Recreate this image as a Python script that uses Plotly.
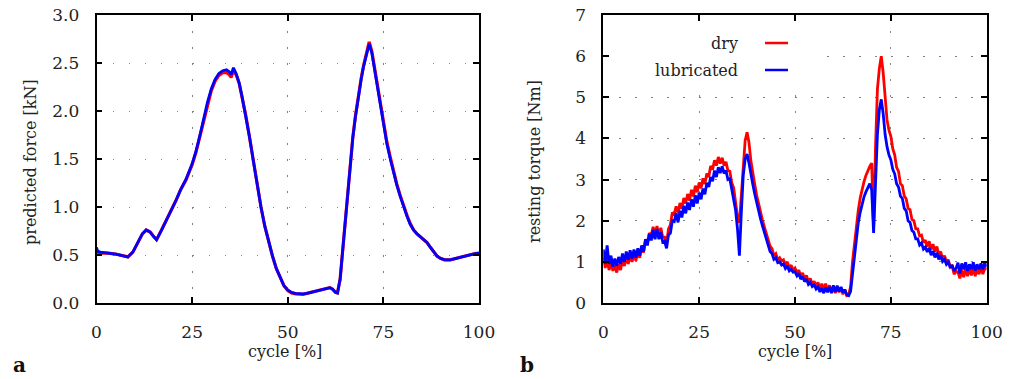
import plotly.graph_objects as go

# ---------------- panel a: predicted force ----------------
cycle_a = [0, 0.3, 1, 3, 5, 7, 8.2, 9.5, 11, 12, 13, 14, 15, 15.7, 17, 19, 20.8, 22, 23.4, 25,
           26, 27, 28, 29, 30, 31, 32, 33, 34, 34.7, 35.2, 35.8, 36.5, 37.3, 38, 39, 40, 41, 42, 43,
           44, 45, 46, 47, 48, 49, 50, 51, 52, 53, 54, 55, 56, 57, 58, 59, 60, 61, 61.7, 62.5,
           63, 63.7, 64.3, 65, 65.7, 66.3, 67, 67.7, 68.5, 69.2, 69.8, 70.5, 71.3, 72, 72.5, 73.3, 74.2, 75, 75.9, 76.8,
           77.6, 78.5, 79.4, 80.3, 81.2, 82, 82.9, 83.8, 84.7, 85.5, 86.4, 87.3, 88.2, 89, 89.9, 91, 92.5, 94, 95.1, 97,
           99, 100]
force_lub = [0.58, 0.54, 0.53, 0.52, 0.51, 0.49, 0.48, 0.53, 0.65, 0.72, 0.76, 0.74, 0.69, 0.66, 0.76, 0.92, 1.07, 1.18, 1.29, 1.45,
             1.58, 1.74, 1.92, 2.09, 2.23, 2.33, 2.39, 2.42, 2.43, 2.41, 2.38, 2.45, 2.39, 2.29, 2.16, 1.96, 1.73, 1.48, 1.23, 1.00,
             0.80, 0.63, 0.49, 0.36, 0.26, 0.18, 0.135, 0.11, 0.10, 0.095, 0.095, 0.10, 0.11, 0.12, 0.135, 0.14, 0.155, 0.16, 0.145, 0.11,
             0.105, 0.25, 0.52, 0.82, 1.15, 1.46, 1.72, 1.94, 2.17, 2.33, 2.46, 2.58, 2.70, 2.60, 2.48, 2.26, 2.03, 1.84, 1.66, 1.50,
             1.36, 1.23, 1.11, 1.00, 0.90, 0.82, 0.76, 0.72, 0.69, 0.67, 0.63, 0.58, 0.53, 0.49, 0.465, 0.45, 0.45, 0.465, 0.48, 0.50,
             0.515, 0.52]
force_dry = [0.55, 0.53, 0.52, 0.52, 0.51, 0.49, 0.48, 0.53, 0.65, 0.72, 0.76, 0.74, 0.69, 0.66, 0.76, 0.92, 1.07, 1.18, 1.28, 1.44,
             1.57, 1.73, 1.90, 2.07, 2.21, 2.31, 2.37, 2.40, 2.40, 2.38, 2.35, 2.42, 2.38, 2.29, 2.16, 1.96, 1.73, 1.48, 1.23, 1.00,
             0.80, 0.63, 0.49, 0.36, 0.26, 0.18, 0.13, 0.105, 0.095, 0.09, 0.09, 0.10, 0.11, 0.12, 0.13, 0.14, 0.15, 0.16, 0.145, 0.11,
             0.105, 0.25, 0.52, 0.82, 1.15, 1.46, 1.72, 1.95, 2.18, 2.34, 2.47, 2.59, 2.72, 2.62, 2.50, 2.28, 2.05, 1.86, 1.68, 1.52,
             1.37, 1.24, 1.12, 1.01, 0.91, 0.83, 0.76, 0.72, 0.69, 0.67, 0.63, 0.58, 0.53, 0.49, 0.465, 0.45, 0.45, 0.465, 0.48, 0.50,
             0.515, 0.52]

# ---------------- panel b: resting torque (0.5 % steps) ----------------
cycle_b = [i * 0.5 for i in range(201)]
torque_lub = [
    1.30, 0.95, 1.40, 0.95, 1.15, 0.88, 1.08, 0.90, 1.12, 0.95,
    1.20, 1.00, 1.25, 1.05, 1.28, 1.08, 1.30, 1.10, 1.33, 1.15,
    1.40, 1.25, 1.55, 1.40, 1.68, 1.52, 1.78, 1.55, 1.80, 1.55,
    1.72, 1.48, 1.50, 1.33, 1.65, 1.70, 2.00, 1.98, 2.18, 1.96,
    2.24, 2.08, 2.36, 2.18, 2.44, 2.26, 2.52, 2.34, 2.62, 2.42,
    2.68, 2.52, 2.78, 2.64, 2.92, 2.82, 3.06, 2.96, 3.22, 3.06,
    3.30, 3.16, 3.32, 3.15, 3.22, 3.00, 3.02, 2.75, 2.58, 2.26,
    1.80, 1.15, 2.20, 3.10, 3.50, 3.62, 3.40, 3.10, 2.88, 2.65,
    2.42, 2.22, 2.05, 1.88, 1.72, 1.55, 1.40, 1.25, 1.20, 1.06,
    1.10, 0.98, 1.00, 0.92, 0.95, 0.84, 0.90, 0.78, 0.82, 0.75,
    0.76, 0.66, 0.72, 0.58, 0.64, 0.52, 0.58, 0.45, 0.50, 0.40,
    0.44, 0.34, 0.39, 0.27, 0.36, 0.24, 0.37, 0.26, 0.39, 0.24,
    0.43, 0.27, 0.42, 0.28, 0.39, 0.26, 0.32, 0.20, 0.18, 0.28,
    0.70, 1.15, 1.60, 1.95, 2.20, 2.42, 2.58, 2.70, 2.80, 2.90,
    2.75, 1.70, 2.90, 4.10, 4.70, 4.95, 4.60, 4.10, 3.80, 3.60,
    3.48, 3.25, 3.14, 2.90, 2.82, 2.60, 2.54, 2.30, 2.24, 2.00,
    1.96, 1.76, 1.72, 1.56, 1.56, 1.41, 1.46, 1.31, 1.36, 1.24,
    1.34, 1.16, 1.26, 1.11, 1.22, 1.06, 1.16, 1.01, 1.06, 0.94,
    0.99, 0.86, 0.92, 0.78, 0.84, 0.98, 0.72, 0.96, 0.82, 0.99,
    0.78, 0.94, 0.82, 0.99, 0.79, 0.94, 0.82, 0.96, 0.82, 0.99,
    0.88]
torque_dry = [
    1.10, 0.85, 1.05, 0.80, 1.00, 0.78, 0.92, 0.74, 0.94, 0.80,
    1.04, 0.90, 1.12, 0.95, 1.16, 1.00, 1.19, 1.03, 1.24, 1.10,
    1.34, 1.23, 1.50, 1.45, 1.70, 1.64, 1.85, 1.66, 1.87, 1.64,
    1.83, 1.60, 1.60, 1.45, 1.80, 1.90, 2.20, 2.16, 2.35, 2.19,
    2.43, 2.29, 2.55, 2.42, 2.65, 2.49, 2.75, 2.59, 2.85, 2.69,
    2.93, 2.79, 3.03, 2.89, 3.15, 3.06, 3.33, 3.24, 3.47, 3.34,
    3.55, 3.39, 3.53, 3.34, 3.43, 3.22, 3.20, 2.92, 2.80, 2.50,
    2.10, 1.95, 2.60, 3.40, 3.95, 4.15, 3.90, 3.45, 3.10, 2.88,
    2.62, 2.40, 2.22, 2.02, 1.85, 1.68, 1.52, 1.38, 1.32, 1.15,
    1.20, 1.05, 1.10, 1.02, 1.05, 0.93, 1.00, 0.85, 0.92, 0.80,
    0.85, 0.73, 0.80, 0.65, 0.73, 0.57, 0.67, 0.50, 0.60, 0.45,
    0.53, 0.40, 0.50, 0.35, 0.47, 0.33, 0.47, 0.30, 0.43, 0.26,
    0.40, 0.24, 0.37, 0.26, 0.37, 0.21, 0.33, 0.18, 0.20, 0.40,
    1.00, 1.45, 1.85, 2.25, 2.55, 2.80, 2.95, 3.10, 3.22, 3.32,
    3.40, 1.80, 3.80, 5.20, 5.70, 6.00, 5.60, 4.90, 4.45, 4.20,
    4.05, 3.75, 3.60, 3.30, 3.20, 2.90, 2.85, 2.60, 2.53, 2.30,
    2.27, 2.03, 2.00, 1.80, 1.80, 1.63, 1.65, 1.47, 1.53, 1.37,
    1.50, 1.30, 1.43, 1.25, 1.37, 1.17, 1.25, 1.07, 1.15, 1.00,
    1.05, 0.87, 0.90, 0.70, 0.77, 0.75, 0.60, 0.80, 0.63, 0.83,
    0.65, 0.83, 0.67, 0.85, 0.65, 0.83, 0.70, 0.87, 0.70, 0.85,
    0.82]

x_ticks = [0, 25, 50, 75, 100]
ya_ticks = [0.0, 0.5, 1.0, 1.5, 2.0, 2.5, 3.0]
ya_labels = ["0.0", "0.5", "1.0", "1.5", "2.0", "2.5", "3.0"]
yb_ticks = [0, 1, 2, 3, 4, 5, 6, 7]
legend_names = ["dry", "lubricated"]

RED = "#ff0000"
BLUE = "#0000ff"
FONT = "DejaVu Serif"
FS = 17
FT = 16
TXT = "#222222"

W, H = 1016, 379
L1, R1 = 96.5, 479.0
L2, R2 = 603.3, 986.7
TOP, BOT = 15.0, 303.0


def py(v):
    """pixel row -> paper y"""
    return (BOT - v) / (BOT - TOP)


fig = go.Figure()
# white mask behind legend key (covers grid only; drawn under data)
fig.add_trace(go.Scatter(x=[0.3, 55.3, 55.3, 0.3, 0.3], y=[5.12, 5.12, 6.97, 6.97, 5.12],
                         mode="lines", fill="toself", fillcolor="white",
                         line=dict(width=0, color="white"), hoverinfo="skip",
                         xaxis="x2", yaxis="y2", showlegend=False))
fig.add_trace(go.Scatter(x=cycle_a, y=force_dry, mode="lines", line=dict(color=RED, width=3.2),
                         xaxis="x", yaxis="y", showlegend=False))
fig.add_trace(go.Scatter(x=cycle_a, y=force_lub, mode="lines", line=dict(color=BLUE, width=2.8),
                         xaxis="x", yaxis="y", showlegend=False))
fig.add_trace(go.Scatter(x=cycle_b, y=torque_dry, mode="lines", line=dict(color=RED, width=2.8),
                         xaxis="x2", yaxis="y2", showlegend=False))
fig.add_trace(go.Scatter(x=cycle_b, y=torque_lub, mode="lines", line=dict(color=BLUE, width=2.8),
                         xaxis="x2", yaxis="y2", showlegend=False))

axis_common = dict(showline=True, linecolor="black", linewidth=1.6, mirror="ticks",
                   ticks="inside", ticklen=6, tickwidth=1.6, tickcolor="black",
                   showgrid=True, gridcolor="#808080", gridwidth=1.3,
                   griddash="1.5px,14.5px", automargin=False,
                   zeroline=False, tickfont=dict(family=FONT, size=FS, color=TXT))

xa = dict(axis_common, range=[0, 100], tickvals=x_ticks, ticklabelstandoff=13)
fig.update_layout(
    width=W, height=H, autosize=False,
    margin=dict(l=0, r=0, t=TOP, b=H - BOT, pad=0),
    paper_bgcolor="white", plot_bgcolor="white",
    font=dict(family=FONT, size=FS, color=TXT),
    xaxis=dict(xa, domain=[L1 / W, R1 / W], anchor="y"),
    yaxis=dict(axis_common, range=[0, 3], tickvals=ya_ticks, ticktext=ya_labels,
               ticklabelstandoff=12, anchor="x"),
    xaxis2=dict(xa, domain=[L2 / W, R2 / W], anchor="y2"),
    yaxis2=dict(axis_common, range=[0, 7], tickvals=yb_ticks,
                ticklabelstandoff=12, anchor="x2"),
    showlegend=False,
)

# legend key
leg_y = [43, 70]
for name, col, yy in zip(legend_names, [RED, BLUE], leg_y):
    fig.add_annotation(x=740 / W, y=py(yy), xref="paper", yref="paper", text=name,
                       showarrow=False, xanchor="right", yanchor="middle",
                       font=dict(family=FONT, size=FT, color=TXT))
    fig.add_shape(type="line", xref="paper", yref="paper",
                  x0=765 / W, x1=788 / W, y0=py(yy), y1=py(yy),
                  line=dict(color=col, width=2.5))

# axis titles
for cx, txt in [(285, "cycle [%]"), (795, "cycle [%]")]:
    fig.add_annotation(x=cx / W, y=py(351), xref="paper", yref="paper", text=txt,
                       showarrow=False, xanchor="center", yanchor="middle",
                       font=dict(family=FONT, size=FT, color=TXT))
for cx, txt in [(30, "predicted force [kN]"), (534, "resting torque [Nm]")]:
    fig.add_annotation(x=cx / W, y=py(162), xref="paper", yref="paper", text=txt,
                       showarrow=False, textangle=-90, xanchor="center", yanchor="middle",
                       font=dict(family=FONT, size=FT, color=TXT))

# panel letters
for cx, txt in [(11, "<b>a</b>"), (518, "<b>b</b>")]:
    fig.add_annotation(x=cx / W, y=py(365), xref="paper", yref="paper", text=txt,
                       showarrow=False, xanchor="left", yanchor="middle",
                       font=dict(family=FONT, size=20, color="#111"))

fig.write_html("out.html", config={"responsive": False, "displayModeBar": False},
               post_script="document.body.style.margin='0';document.body.style.overflow='hidden';")
